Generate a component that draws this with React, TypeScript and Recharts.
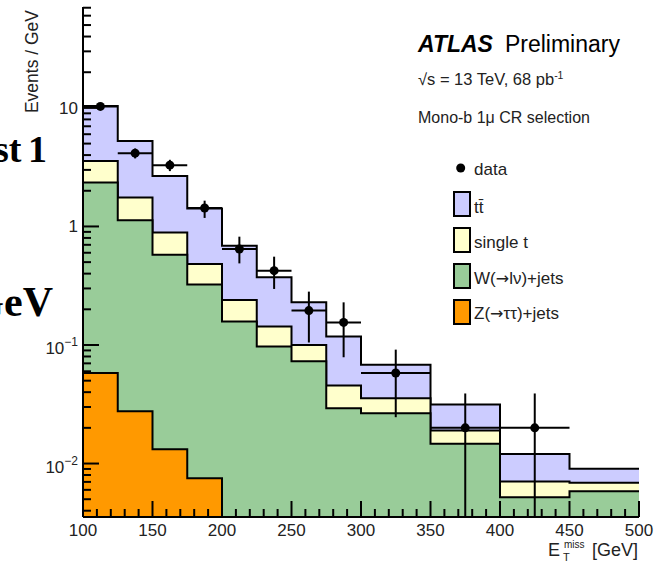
import React from 'react';
import { ComposedChart, Area, Scatter, ErrorBar, XAxis, YAxis, Legend } from 'recharts';

const Y_MIN = 0.00354;
const Y_MAX = 71;

// E_T^miss bin edges [GeV]
const binEdges = [100, 125, 150, 175, 200, 225, 250, 275, 300, 350, 400, 450, 500];

// backgrounds, Events / GeV per bin (bottom of stack first)
const zTauTau = [0.058, 0.0276, 0.0132, 0.0075, 0, 0, 0, 0, 0, 0, 0, 0];
const wJets = [2.29, 1.1, 0.565, 0.316, 0.158, 0.097, 0.073, 0.0293, 0.0266, 0.0147, 0.0052, 0.00585];
const singleTop = [1.22, 0.63, 0.312, 0.159, 0.082, 0.046, 0.027, 0.0162, 0.009, 0.0043, 0.00185, 0.00103];
const ttbar = [6.8, 3.51, 1.78, 0.938, 0.447, 0.229, 0.129, 0.0725, 0.0324, 0.0125, 0.005, 0.00216];

// data
const dataX = [112.5, 137.5, 162.5, 187.5, 212.5, 237.5, 262.5, 287.5, 325, 375, 425];
const dataXErr = [12.5, 12.5, 12.5, 12.5, 12.5, 12.5, 12.5, 12.5, 25, 25, 25];
const dataY = [10.3, 4.15, 3.29, 1.43, 0.645, 0.424, 0.195, 0.155, 0.058, 0.02, 0.02];
const dataUp = [10.95, 4.55, 3.65, 1.65, 0.82, 0.556, 0.282, 0.229, 0.0914, 0.039, 0.039];
const dataDown = [9.65, 3.75, 2.93, 1.18, 0.488, 0.297, 0.105, 0.0788, 0.0246, 0, 0];

const xTicks = [100, 110, 120, 130, 140, 150, 160, 170, 180, 190, 200, 210, 220, 230, 240, 250, 260, 270, 280, 290,
  300, 310, 320, 330, 340, 350, 360, 370, 380, 390, 400, 410, 420, 430, 440, 450, 460, 470, 480, 490, 500];
const xLabels = [100, 150, 200, 250, 300, 350, 400, 450, 500];

const legendItems = [
  { pre: 'tt\u0304', arrow: '', post: '', color: '#ccccff' },
  { pre: 'single t', arrow: '', post: '', color: '#ffffcc' },
  { pre: 'W(', arrow: '\u2192', post: 'l\u03bd)+jets', color: '#99cc99' },
  { pre: 'Z(', arrow: '\u2192', post: '\u03c4\u03c4)+jets', color: '#ff9900' },
];

const FONT = '"Liberation Sans", Arial, Helvetica, sans-serif';
const SERIF = '"Liberation Serif", "Times New Roman", serif';

const nBins = binEdges.length - 1;
const stackAt = (b: number, parts: number[][]) => parts.reduce((s, p) => s + p[b], 0);

const histRows = binEdges.map((x, i) => {
  const b = Math.min(i, nBins - 1);
  let z: number | null = null;
  if (zTauTau[b] > 0) z = zTauTau[b];
  else if (i > 0 && zTauTau[i - 1] > 0) z = Y_MIN;
  return {
    x,
    z,
    w: stackAt(b, [zTauTau, wJets]),
    st: stackAt(b, [zTauTau, wJets, singleTop]),
    tt: stackAt(b, [zTauTau, wJets, singleTop, ttbar]),
  };
});

const points = dataX.map((x, i) => ({
  x,
  y: dataY[i],
  ex: dataXErr[i],
  ey: [dataY[i] - Math.max(dataDown[i], Y_MIN), dataUp[i] - dataY[i]],
}));

const yTicks: number[] = [];
for (let d = -3; d <= 1; d++) {
  for (let m = 1; m <= 9; m++) {
    const v = Number((m * Math.pow(10, d)).toPrecision(3));
    if (v >= Y_MIN && v <= Y_MAX) yTicks.push(v);
  }
}
const isDecade = (v: number) => Math.abs(Math.log10(v) - Math.round(Math.log10(v))) < 1e-6;

const LeftTick = (props: any) => {
  const { x, y, payload } = props;
  const v = payload.value;
  const major = isDecade(v);
  const e = Math.round(Math.log10(v));
  return (
    <g>
      <line x1={x} x2={x + (major ? 16 : 8)} y1={y} y2={y} stroke="#000" strokeWidth={2} />
      {major && e >= 0 && (
        <text x={x - 5} y={y + 6} textAnchor="end" fontSize={17} fontFamily={FONT} fill="#222">
          {String(v)}
        </text>
      )}
      {major && e < 0 && (
        <text x={x - 5} y={y + 9} textAnchor="end" fontSize={17} fontFamily={FONT} fill="#222">
          10
          <tspan dy={-8} fontSize={12}>{'\u2212' + Math.abs(e)}</tspan>
        </text>
      )}
    </g>
  );
};

const RightTick = (props: any) => {
  const { x, y, payload } = props;
  const major = isDecade(payload.value);
  return <line x1={x} x2={x - (major ? 16 : 8)} y1={y} y2={y} stroke="#000" strokeWidth={2} />;
};

const BottomTick = (props: any) => {
  const { x, y, payload } = props;
  const major = xLabels.includes(payload.value);
  return (
    <g>
      <line x1={x} x2={x} y1={y} y2={y - (major ? 16 : 8)} stroke="#000" strokeWidth={2} />
      {major && (
        <text x={x} y={y + 18.5} textAnchor="middle" fontSize={17} fontFamily={FONT} fill="#222">
          {payload.value}
        </text>
      )}
    </g>
  );
};

const TopTick = (props: any) => {
  const { x, y, payload } = props;
  const major = xLabels.includes(payload.value);
  return <line x1={x} x2={x} y1={y} y2={y + (major ? 16 : 8)} stroke="#000" strokeWidth={2} />;
};

const LegendBox = () => (
  <svg width={170} height={175} style={{ display: 'block' }}>
    <circle cx={11.7} cy={13} r={4.5} fill="#000" />
    <text x={25} y={20} fontSize={17} fontFamily={FONT} fill="#222">data</text>
    {legendItems.map((it, i) => (
      <g key={it.pre + i}>
        <rect x={5} y={37 + i * 36} width={16} height={24} fill={it.color} stroke="#000" strokeWidth={2} />
        <text x={25} y={57.5 + i * 35.5} fontSize={17} fontFamily={FONT} fill="#222">
          {it.pre}
          {it.arrow && <tspan fontFamily='"DejaVu Sans", sans-serif' fontSize={16}>{it.arrow}</tspan>}
          {it.post}
        </text>
      </g>
    ))}
  </svg>
);

const Dot = (props: any) => <circle cx={props.cx} cy={props.cy} r={4.5} fill="#000" />;

export default function App() {
  return (
    <div style={{ position: 'absolute', left: 0, top: 0, width: 670, height: 562, background: '#fff' }}>
      <ComposedChart
        width={670}
        height={562}
        data={histRows}
        margin={{ top: 7, right: 31, left: 33, bottom: 15 }}
      >
        <XAxis
          xAxisId={0}
          dataKey="x"
          type="number"
          domain={[100, 500]}
          allowDataOverflow
          ticks={xTicks}
          interval={0}
          tick={<BottomTick />}
          tickLine={false}
          tickSize={0}
          tickMargin={0}
          height={30}
          axisLine={{ stroke: '#000', strokeWidth: 2 }}
        />
        <XAxis
          xAxisId="top"
          orientation="top"
          dataKey="x"
          type="number"
          domain={[100, 500]}
          allowDataOverflow
          ticks={xTicks}
          interval={0}
          tick={<TopTick />}
          tickLine={false}
          tickSize={0}
          tickMargin={0}
          height={0}
          axisLine={{ stroke: '#000', strokeWidth: 2 }}
        />
        <YAxis
          yAxisId={0}
          scale="log"
          type="number"
          domain={[Y_MIN, Y_MAX]}
          allowDataOverflow
          ticks={yTicks}
          interval={0}
          tick={<LeftTick />}
          tickLine={false}
          tickSize={0}
          tickMargin={0}
          width={50}
          axisLine={{ stroke: '#000', strokeWidth: 2 }}
        />
        <YAxis
          yAxisId="right"
          orientation="right"
          scale="log"
          type="number"
          domain={[Y_MIN, Y_MAX]}
          allowDataOverflow
          ticks={yTicks}
          interval={0}
          tick={<RightTick />}
          tickLine={false}
          tickSize={0}
          tickMargin={0}
          width={0}
          axisLine={{ stroke: '#000', strokeWidth: 2 }}
        />
        <Area type="stepAfter" dataKey="tt" baseValue={Y_MIN} fill="#ccccff" fillOpacity={1} stroke="#000" strokeWidth={2} isAnimationActive={false} activeDot={false} />
        <Area type="stepAfter" dataKey="st" baseValue={Y_MIN} fill="#ffffcc" fillOpacity={1} stroke="#000" strokeWidth={2} isAnimationActive={false} activeDot={false} />
        <Area type="stepAfter" dataKey="w" baseValue={Y_MIN} fill="#99cc99" fillOpacity={1} stroke="#000" strokeWidth={2} isAnimationActive={false} activeDot={false} />
        <Area type="stepAfter" dataKey="z" baseValue={Y_MIN} fill="#ff9900" fillOpacity={1} stroke="#000" strokeWidth={2} isAnimationActive={false} activeDot={false} />
        <Scatter data={points} dataKey="y" shape={<Dot />} isAnimationActive={false}>
          <ErrorBar dataKey="ey" direction="y" width={0} stroke="#000" strokeWidth={2} />
          <ErrorBar dataKey="ex" direction="x" width={0} stroke="#000" strokeWidth={2} />
        </Scatter>
        <Legend
          layout="vertical"
          align="center"
          verticalAlign="middle"
          wrapperStyle={{ left: 449, top: 155, width: 170 }}
          content={() => <LegendBox />}
        />
      </ComposedChart>
      <svg width={670} height={562} style={{ position: 'absolute', left: 0, top: 0, pointerEvents: 'none' }}>
        <text x={47} y={162} textAnchor="end" fontSize={38} fontWeight="bold" fontFamily={SERIF} wordSpacing={-3} fill="#000">st 1</text>
        <text x={53} y={316} textAnchor="end" fontSize={42} fontWeight="bold" fontFamily={SERIF} fill="#000">GeV</text>
        <text transform="translate(38,10) rotate(-90)" textAnchor="end" fontSize={17.5} fontFamily={FONT} fill="#222">Events / GeV</text>
        <text x={418} y={52} fontSize={23} fontFamily={FONT} fill="#000">
          <tspan fontWeight="bold" fontStyle="italic">ATLAS</tspan>
          <tspan dx={12}>Preliminary</tspan>
        </text>
        <text x={418} y={85} fontSize={16.5} fontFamily={FONT} fill="#222">
          {'\u221as = 13 TeV, 68 pb'}
          <tspan dy={-6} fontSize={10.5}>-1</tspan>
        </text>
        <text x={418} y={123} fontSize={16} fontFamily={FONT} fill="#222">{'Mono-b 1\u03bc CR selection'}</text>
        <text x={548} y={556} fontSize={18} fontFamily={FONT} fill="#222">E</text>
        <text x={564} y={548} fontSize={10} fontFamily={FONT} fill="#222">miss</text>
        <text x={563} y={561} fontSize={11} fontFamily={FONT} fill="#222">T</text>
        <text x={638} y={556} textAnchor="end" fontSize={18} fontFamily={FONT} fill="#222">[GeV]</text>
      </svg>
    </div>
  );
}
